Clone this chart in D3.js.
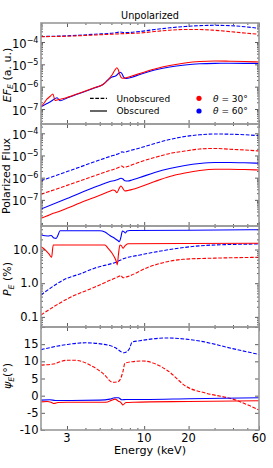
<!DOCTYPE html>
<html><head><meta charset="utf-8">
<script src="https://cdn.jsdelivr.net/npm/d3@7"></script>
<style>
body{margin:0;background:#fff}
svg{display:block}
text{font-family:"DejaVu Sans",sans-serif;fill:#000}
</style></head>
<body><svg id="c" width="273" height="468"></svg>
<script>
// ---------- data ----------
const energyMajor = [3, 10, 20, 60];
const energyMinor = [2, 4, 5, 6, 7, 8, 9, 30, 40, 50];
const energyDomain = [2, 60];

// Panel 1: unpolarized E F_E (a.u.)  [energy keV, value]
const fluxUnobs30 = [[2.0,1.73e-4],[3.0,1.82e-4],[4.64,2.06e-4],[6.85,2.33e-4],[9.35,2.53e-4],[11.8,2.95e-4],[14.9,3.38e-4],[18.9,3.66e-4],[23.8,3.63e-4],[30.1,3.34e-4],[38,2.92e-4],[48,2.53e-4],[60,2.21e-4]];
const fluxUnobs60 = [[2.0,1.76e-4],[3.0,1.90e-4],[4.64,2.23e-4],[6.34,2.58e-4],[6.85,2.80e-4],[7.29,2.64e-4],[9.35,2.95e-4],[11.8,3.63e-4],[14.9,4.32e-4],[18.9,4.94e-4],[23.8,5.42e-4],[30.1,5.60e-4],[38,5.42e-4],[48,4.84e-4],[60,4.10e-4]];
const fluxObs30 = [[2.0,1.27e-7],[2.1,1.86e-7],[2.2,2.81e-7],[2.3,3.63e-7],[2.41,4.70e-7],[2.49,2.40e-7],[2.57,2.53e-7],[2.69,2.72e-7],[3.0,3.27e-7],[3.67,5.21e-7],[4.64,9.18e-7],[5.26,1.25e-6],[5.68,1.99e-6],[6.05,3.33e-6],[6.34,5.57e-6],[6.54,7.06e-6],[6.69,5.57e-6],[6.85,3.33e-6],[7.06,2.44e-6],[7.29,2.37e-6],[7.52,2.49e-6],[7.76,2.63e-6],[8.26,3.01e-6],[9.35,3.89e-6],[11.8,6.18e-6],[14.9,8.87e-6],[18.9,1.15e-5],[23.8,1.34e-5],[30.1,1.41e-5],[38,1.38e-5],[48,1.34e-5],[60,1.27e-5]];
const fluxObs60 = [[2.0,1.27e-7],[2.1,1.51e-7],[2.2,1.76e-7],[2.3,2.06e-7],[2.41,2.53e-7],[2.49,2.95e-7],[2.57,3.21e-7],[2.69,2.35e-7],[3.0,3.11e-7],[3.67,5.10e-7],[4.64,8.99e-7],[5.26,1.25e-6],[5.68,1.99e-6],[6.05,2.71e-6],[6.34,2.91e-6],[6.54,3.33e-6],[6.69,3.89e-6],[6.85,4.40e-6],[7.06,3.89e-6],[7.29,2.58e-6],[7.52,2.32e-6],[7.76,2.37e-6],[8.26,2.66e-6],[9.35,3.51e-6],[11.8,5.57e-6],[14.9,7.60e-6],[18.9,9.33e-6],[23.8,1.06e-5],[30.1,1.11e-5],[38,1.12e-5],[48,1.11e-5],[60,1.09e-5]];

// Panel 2: polarized flux
const polUnobs30 = [[2.0,1.78e-7],[3.0,4.49e-7],[4.64,1.23e-6],[5.86,2.11e-6],[6.85,3.03e-6],[7.06,3.36e-6],[7.29,2.90e-6],[7.52,3.05e-6],[9.35,5.09e-6],[11.8,8.12e-6],[14.9,1.23e-5],[18.9,1.59e-5],[23.8,1.96e-5],[30.1,2.07e-5],[38,1.92e-5],[48,1.77e-5],[60,1.59e-5]];
const polUnobs60 = [[2.0,7.3e-7],[3.0,1.88e-6],[4.64,5.25e-6],[5.86,9.0e-6],[6.85,1.29e-5],[7.06,1.45e-5],[7.29,1.40e-5],[7.52,1.45e-5],[7.76,1.55e-5],[9.35,2.18e-5],[11.8,3.47e-5],[14.9,5.26e-5],[18.9,7.18e-5],[23.8,8.56e-5],[30.1,9.3e-5],[38,9.1e-5],[48,8.6e-5],[60,7.8e-5]];
const polObs30 = [[2.0,1.48e-8],[2.19,1.88e-8],[2.42,2.48e-8],[2.62,2.93e-8],[3.0,4.17e-8],[3.67,7.23e-8],[4.64,1.32e-7],[5.26,1.84e-7],[5.86,2.46e-7],[6.14,2.79e-7],[6.34,2.64e-7],[6.54,2.10e-7],[6.74,3.09e-7],[6.96,4.22e-7],[7.18,3.25e-7],[7.40,2.51e-7],[7.76,2.64e-7],[8.26,2.93e-7],[9.35,3.80e-7],[11.8,6.73e-7],[14.9,1.13e-6],[18.9,1.62e-6],[23.8,2.11e-6],[30.1,2.41e-6],[38,2.41e-6],[48,2.34e-6],[60,2.22e-6]];
const polObs60 = [[2.0,3.88e-8],[3.0,1.14e-7],[4.64,3.76e-7],[5.26,5.19e-7],[5.86,6.73e-7],[6.34,7.46e-7],[6.64,8.28e-7],[6.96,9.38e-7],[7.18,8.73e-7],[7.40,7.23e-7],[7.76,7.08e-7],[8.26,7.86e-7],[9.35,1.02e-6],[11.8,1.71e-6],[14.9,2.59e-6],[18.9,3.54e-6],[23.8,4.36e-6],[30.1,4.83e-6],[38,4.83e-6],[48,4.69e-6],[60,4.45e-6]];

// Panel 3: polarization degree (%)
const degUnobs30 = [[2.0,0.114],[3.0,0.339],[4.64,0.77],[6.67,1.56],[6.96,1.69],[7.18,1.45],[7.52,1.52],[10.9,3.09],[18.4,5.12],[32.5,5.6],[60,5.87]];
const degUnobs60 = [[2.0,0.446],[3.0,1.40],[3.67,1.88],[4.64,2.82],[6.54,4.34],[7.29,5.4],[9.35,6.87],[14.2,9.66],[23.8,12.9],[38,14.1],[60,14.6]];
const degObs30 = [[2.0,12.1],[2.06,11.1],[2.16,9.3],[2.27,7.3],[2.36,5.9],[2.42,13.6],[5.42,13.6],[5.68,11.1],[6.05,7.9],[6.34,5.5],[6.49,4.3],[6.57,3.5],[6.69,6.9],[6.85,13.6],[7.01,13.1],[7.18,10.9],[7.40,12.7],[7.76,14.9],[20,15.1],[60,15.3]];
const degObs60 = [[2.0,27],[2.23,25.2],[2.34,26],[2.45,22],[2.53,21.5],[2.61,27],[2.69,36],[5.01,36.2],[5.42,33.1],[5.86,26.1],[6.34,21.2],[6.64,18.5],[6.79,17.1],[6.96,23.5],[7.12,35.4],[7.29,34],[7.46,31],[7.64,35.5],[8.0,36.6],[20,37.5],[60,38.7]];

// Panel 4: polarization angle (deg)
const angUnobs30 = [[2.0,8.9],[2.49,9.3],[2.7,9.9],[3.0,10.3],[3.4,10.3],[4.52,8.4],[5.26,6.5],[6.14,3.9],[6.6,4.0],[6.85,4.6],[7.18,7.0],[7.40,9.4],[8.3,9.9],[9.8,10.1],[14.2,7.5],[19.4,2.6],[26.4,0.7],[39.8,-1.0],[60,-4.2]];
const angUnobs60 = [[2.0,13.4],[3.0,14.9],[4.0,15.4],[5.86,14.6],[6.34,14.0],[7.29,12.5],[7.9,13.5],[8.3,15.6],[9.35,16.0],[14.2,16.8],[23.8,15.9],[39.8,13.7],[60,12.0]];
const angObs30 = [[2.0,-1.8],[2.2,-1.7],[2.36,-2.0],[2.45,-2.3],[2.6,-2.0],[3.0,-1.9],[5.5,-1.9],[6.05,-1.3],[6.34,-1.0],[6.69,-1.6],[6.96,-2.0],[7.18,-2.7],[7.52,-2.0],[8.5,-1.9],[20,-1.7],[60,-1.5]];
const angObs60 = [[2.0,-1.3],[2.3,-1.2],[2.5,-1.4],[5.0,-1.3],[5.86,-1.0],[6.34,-0.6],[6.69,-0.6],[7.06,-1.2],[7.52,-1.1],[10,-1.1],[20,-0.9],[60,-0.6]];

const angleTicks = [-10, -5, 0, 5, 10, 15, 20];
const degreeTicks = [0.1, 1, 10];
const legendStyles = ["Unobscured", "Obscured"];
const legendAngles = ["30", "60"];

// ---------- drawing ----------
const svg = d3.select("#c");
const RED = "#ff0000", BLUE = "#0000ff";
const L = 41, R = 259;
const x = d3.scaleLog().domain(energyDomain).range([L, R]);

const panels = [
  {top: 23, bottom: 124, y: d3.scaleLog().domain([2.13e-8, 7.1e-4]).range([124, 23]),
   series: [[fluxUnobs60, BLUE, true], [fluxUnobs30, RED, true], [fluxObs60, BLUE, false], [fluxObs30, RED, false]], kind: "pow", dec: [-7, -4]},
  {top: 124, bottom: 226, y: d3.scaleLog().domain([6.64e-9, 2.62e-4]).range([226, 124]),
   series: [[polUnobs60, BLUE, true], [polUnobs30, RED, true], [polObs60, BLUE, false], [polObs30, RED, false]], kind: "pow", dec: [-7, -4]},
  {top: 226, bottom: 327, y: d3.scaleLog().domain([0.05, 50]).range([327, 226]),
   series: [[degUnobs60, BLUE, true], [degUnobs30, RED, true], [degObs60, BLUE, false], [degObs30, RED, false]], kind: "pct"},
  {top: 327, bottom: 430, y: d3.scaleLinear().domain([-10, 20]).range([430, 327]),
   series: [[angUnobs60, BLUE, true], [angUnobs30, RED, true], [angObs60, BLUE, false], [angObs30, RED, false]], kind: "lin"}
];

const TICKC = "#333";
const FS = 11.5;

function logMinors(dom) {
  const out = [];
  const lo = Math.floor(Math.log10(dom[0])), hi = Math.ceil(Math.log10(dom[1]));
  for (let d = lo; d <= hi; d++) for (let m = 2; m <= 9; m++) {
    const v = m * Math.pow(10, d);
    if (v > dom[0] && v < dom[1]) out.push(v);
  }
  return out;
}

panels.forEach((p, i) => {
  const g = svg.append("g");
  const clipId = "clip" + i;
  svg.append("clipPath").attr("id", clipId).append("rect")
    .attr("x", L).attr("y", p.top).attr("width", R - L).attr("height", p.bottom - p.top);

  const line = d3.line().x(d => x(d[0])).y(d => p.y(d[1])).curve(d3.curveMonotoneX);
  const lg = g.append("g").attr("clip-path", `url(#${clipId})`);
  p.series.forEach(([data, col, dashed]) => {
    lg.append("path").attr("d", line(data)).attr("fill", "none")
      .attr("stroke", col).attr("stroke-width", 1.1)
      .attr("stroke-dasharray", dashed ? "3.7,1.6" : null);
  });

  const mkX = (vals, len) => {
    g.append("g").attr("transform", `translate(0,${p.bottom})`)
      .call(d3.axisBottom(x).tickValues(vals).tickSize(-len).tickFormat(""))
      .call(a => a.select(".domain").remove())
      .call(a => a.selectAll("line").attr("stroke", TICKC).attr("stroke-width", 0.8));
    g.append("g").attr("transform", `translate(0,${p.top})`)
      .call(d3.axisTop(x).tickValues(vals).tickSize(-len).tickFormat(""))
      .call(a => a.select(".domain").remove())
      .call(a => a.selectAll("line").attr("stroke", TICKC).attr("stroke-width", 0.8));
  };
  mkX(energyMajor, 4);
  mkX(energyMinor, 2);

  let majors, minors = [];
  if (p.kind === "pow") {
    majors = d3.range(p.dec[0], p.dec[1] + 1).map(e => Math.pow(10, e));
    minors = logMinors(p.y.domain());
  } else if (p.kind === "pct") {
    majors = degreeTicks;
    minors = logMinors(p.y.domain());
  } else {
    majors = angleTicks;
  }
  const mkY = (vals, len) => {
    g.append("g").attr("transform", `translate(${L},0)`)
      .call(d3.axisLeft(p.y).tickValues(vals).tickSize(-len).tickFormat(""))
      .call(a => a.select(".domain").remove())
      .call(a => a.selectAll("line").attr("stroke", TICKC).attr("stroke-width", 0.8));
    g.append("g").attr("transform", `translate(${R},0)`)
      .call(d3.axisRight(p.y).tickValues(vals).tickSize(-len).tickFormat(""))
      .call(a => a.select(".domain").remove())
      .call(a => a.selectAll("line").attr("stroke", TICKC).attr("stroke-width", 0.8));
  };
  mkY(majors, 4);
  if (minors.length) mkY(minors, 2);

  majors.forEach(v => {
    const yy = p.y(v);
    if (yy < p.top - 0.5 || yy > p.bottom + 0.5) return;
    if (p.kind === "lin" && v === 20) return;
    const t = g.append("text").attr("text-anchor", "end").attr("font-size", FS).attr("x", 38.5);
    if (p.kind === "pow") {
      t.attr("y", yy + 5.5);
      t.append("tspan").text("10");
      t.append("tspan").attr("font-size", FS * 0.7).attr("dy", -5).text("\u2212" + Math.abs(Math.round(Math.log10(v))));
    } else if (p.kind === "pct") {
      t.attr("y", yy + 4).text(d3.format(".1f")(v));
    } else {
      t.attr("y", yy + 4).text(v);
    }
  });

  g.append("rect").attr("x", L).attr("y", p.top).attr("width", R - L).attr("height", p.bottom - p.top)
    .attr("fill", "none").attr("stroke", "#999").attr("stroke-width", 1.6);
});

energyMajor.forEach(v => {
  svg.append("text").attr("x", x(v)).attr("y", 442).attr("text-anchor", "middle")
    .attr("font-size", FS).text(v);
});
svg.append("text").attr("x", 150).attr("y", 454).attr("text-anchor", "middle")
  .attr("font-size", 11.2).text("Energy (keV)");

svg.append("text").attr("x", 150).attr("y", 19).attr("text-anchor", "middle")
  .attr("font-size", 9.7).text("Unpolarized");

function ylab(xp, yc, build) {
  const t = svg.append("text").attr("transform", `translate(${xp},${yc}) rotate(-90)`)
    .attr("text-anchor", "middle").attr("font-size", 11);
  build(t);
}
ylab(10.5, 75, t => {
  t.append("tspan").attr("font-style", "italic").text("EF");
  t.append("tspan").attr("font-style", "italic").attr("font-size", 7.7).attr("dy", 2.5).text("E");
  t.append("tspan").attr("dy", -2.5).text(" (a. u.)");
});
ylab(10, 176, t => t.text("Polarized Flux"));
ylab(11, 279, t => {
  t.append("tspan").attr("font-style", "italic").text("P");
  t.append("tspan").attr("font-style", "italic").attr("font-size", 7.7).attr("dy", 2.5).text("E");
  t.append("tspan").attr("dy", -2.5).text(" (%)");
});
ylab(11, 376, t => {
  t.append("tspan").attr("font-style", "italic").text("\u03c8");
  t.append("tspan").attr("font-style", "italic").attr("font-size", 7.7).attr("dy", 2.5).text("E");
  t.append("tspan").attr("dy", -2.5).text("(\u00b0)");
});

const legY = [98.3, 111];
legendStyles.forEach((name, i) => {
  svg.append("line").attr("x1", 90).attr("x2", 107).attr("y1", legY[i]).attr("y2", legY[i])
    .attr("stroke", "#000").attr("stroke-width", 1.2)
    .attr("stroke-dasharray", i === 0 ? "3.7,1.6" : null);
  svg.append("text").attr("x", 116.5).attr("y", legY[i] + 3.3).attr("font-size", 9).text(name);
});
legendAngles.forEach((a, i) => {
  svg.append("circle").attr("cx", 199).attr("cy", legY[i]).attr("r", 2.6).attr("fill", i === 0 ? RED : BLUE);
  const t = svg.append("text").attr("x", 213).attr("y", legY[i] + 3.3).attr("font-size", 9);
  t.append("tspan").attr("font-style", "italic").text("\u03b8");
  t.append("tspan").text(" = " + a + "\u00b0");
});
</script>
</body></html>
